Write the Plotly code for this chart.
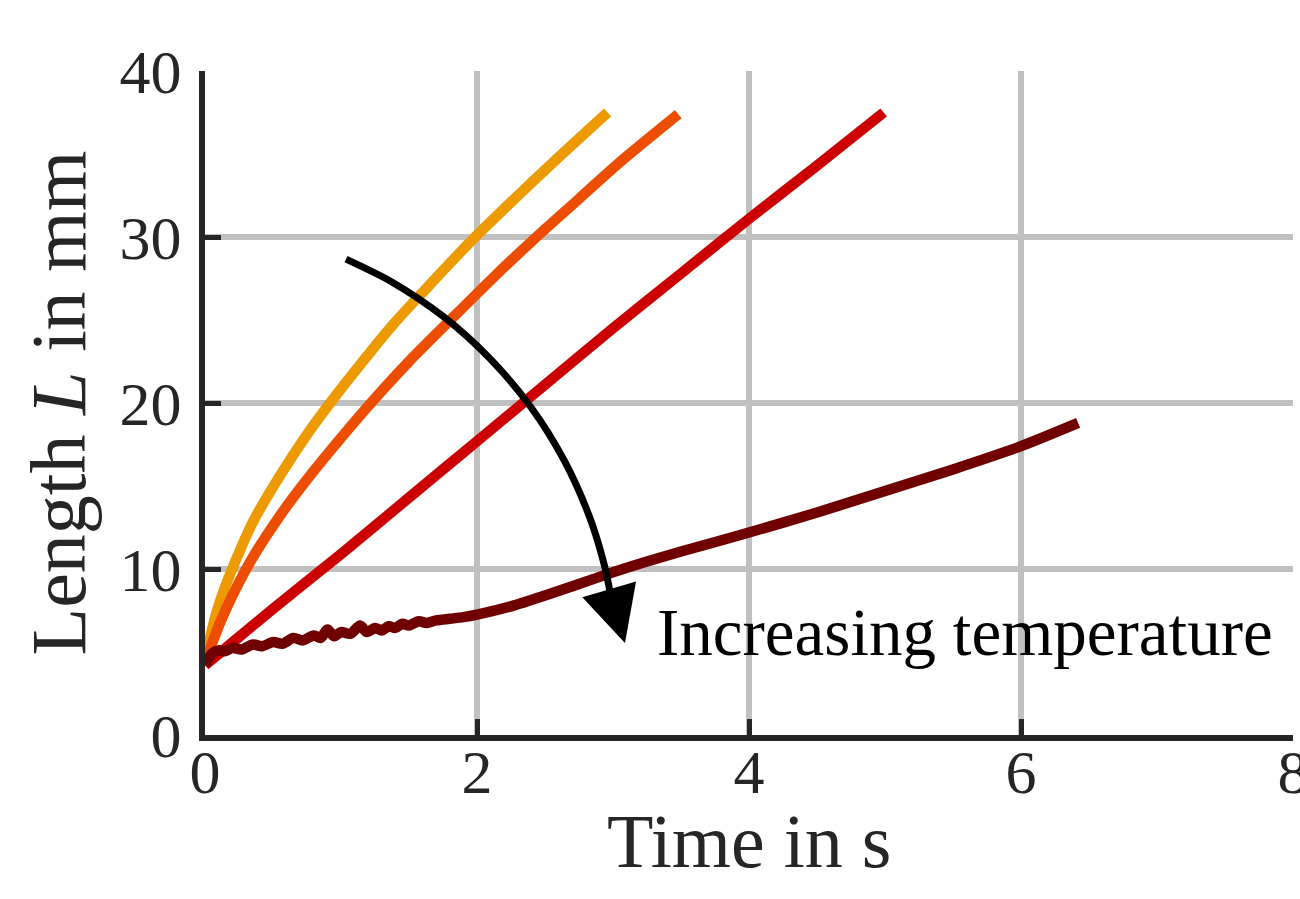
import plotly.graph_objects as go

# ---- data ----
t_orange = [0.0, 0.05, 0.10, 0.22, 0.35, 0.55, 0.75, 0.92, 1.15, 1.38, 1.65, 1.95, 2.25, 2.56, 2.96]
L_orange = [4.2, 6.3, 7.8, 10.4, 12.8, 15.6, 18.1, 20.0, 22.4, 24.7, 27.1, 29.7, 32.1, 34.5, 37.5]

t_darkorange = [0.0, 0.06, 0.15, 0.33, 0.55, 0.77, 1.00, 1.22, 1.50, 1.78, 2.10, 2.41, 2.75, 3.05, 3.48]
L_darkorange = [4.2, 5.7, 7.5, 10.4, 13.2, 15.6, 17.9, 20.0, 22.5, 24.8, 27.4, 29.8, 32.3, 34.5, 37.4]

t_red = [0.0, 0.50, 1.00, 1.50, 2.00, 2.50, 3.00, 3.50, 4.00, 4.50, 4.99]
L_red = [4.2, 7.6, 10.9, 14.3, 17.7, 21.1, 24.5, 27.8, 31.1, 34.3, 37.5]

t_darkred = [0.0, 0.05, 0.10, 0.15, 0.20, 0.27, 0.35, 0.42, 0.50, 0.57,
             0.65, 0.72, 0.80, 0.85, 0.90, 0.95, 1.00, 1.07, 1.14, 1.19,
             1.25, 1.30, 1.35, 1.40, 1.45, 1.50, 1.57, 1.63, 1.70, 1.80,
             1.90, 2.00, 2.25, 2.50, 2.75, 3.00, 3.25, 3.50, 4.00, 4.50,
             5.00, 5.50, 6.00, 6.42]
L_darkred = [4.2, 4.9, 5.1, 5.05, 5.25, 5.15, 5.45, 5.35, 5.6, 5.5,
             5.85, 5.7, 6.0, 5.85, 6.35, 5.95, 6.2, 6.1, 6.6, 6.2,
             6.45, 6.3, 6.55, 6.45, 6.7, 6.6, 6.85, 6.75, 6.9, 7.0,
             7.1, 7.25, 7.75, 8.4, 9.1, 9.8, 10.45, 11.05, 12.2, 13.4,
             14.7, 16.0, 17.4, 18.8]

# curved arrow path ("Increasing temperature")
t_arrow = [1.037, 1.371, 1.755, 2.099, 2.398, 2.643, 2.832, 2.934, 2.980]
L_arrow = [28.67, 27.31, 25.19, 22.64, 19.73, 16.51, 13.04, 10.31, 8.55]
arrow_tip = (3.088, 5.54)
label_text = "Increasing temperature"
label_pos = (3.31, 6.2)

x_title = "Time in s"
y_title = "Length <i>L</i> in mm"
x_ticks = [0, 2, 4, 6, 8]
y_ticks = [0, 10, 20, 30, 40]

series = [
    (t_orange, L_orange, "#EC9A00"),
    (t_darkorange, L_darkorange, "#EC4D00"),
    (t_red, L_red, "#CC0000"),
    (t_darkred, L_darkred, "#700000"),
]

FONT = "Liberation Serif"
INK = "#262626"

fig = go.Figure()
for tx, ly, col in series:
    fig.add_trace(go.Scatter(x=tx, y=ly, mode="lines",
                             line=dict(color=col, width=10.5, shape="spline", smoothing=0.8),
                             cliponaxis=False, showlegend=False, hoverinfo="skip"))

fig.add_trace(go.Scatter(x=t_arrow, y=L_arrow, mode="lines",
                         line=dict(color="black", width=7, shape="spline", smoothing=0.8),
                         showlegend=False, hoverinfo="skip"))

fig.add_annotation(x=arrow_tip[0], y=arrow_tip[1], ax=t_arrow[-1], ay=L_arrow[-1],
                   xref="x", yref="y", axref="x", ayref="y",
                   showarrow=True, arrowhead=2, arrowsize=1.6, arrowwidth=7,
                   arrowcolor="black", text="")

fig.add_annotation(x=label_pos[0], y=label_pos[1], xref="x", yref="y",
                   text=label_text, showarrow=False, xanchor="left", yanchor="middle",
                   font=dict(family=FONT, size=67, color="black"))

# x-axis title placed just below the tick labels
fig.add_annotation(x=0.5, y=-0.160, xref="paper", yref="paper",
                   text=x_title, showarrow=False, xanchor="center", yanchor="middle",
                   font=dict(family=FONT, size=76, color=INK))

axis_common = dict(
    showline=True, linecolor=INK, linewidth=6,
    ticks="inside", ticklen=16, tickwidth=5, tickcolor=INK,
    showgrid=True, gridcolor="#C0C0C0", gridwidth=6,
    zeroline=False, layer="below traces", automargin=False,
    tickfont=dict(family=FONT, size=62, color=INK),
)

fig.update_xaxes(range=[0, 8], tickvals=x_ticks, ticktext=[str(v) for v in x_ticks],
                 ticklabelstandoff=-22, ticklabeloverflow="allow", **axis_common)
fig.update_yaxes(range=[0, 40], tickvals=y_ticks, ticktext=[str(v) for v in y_ticks],
                 title=dict(text=y_title,
                            font=dict(family=FONT, size=78, color=INK),
                            standoff=10),
                 ticklabelstandoff=5, **axis_common)

fig.update_layout(width=1300, height=899,
                  margin=dict(l=205, r=7, t=71, b=164, pad=0),
                  paper_bgcolor="white", plot_bgcolor="white")

fig.write_html("out.html")
